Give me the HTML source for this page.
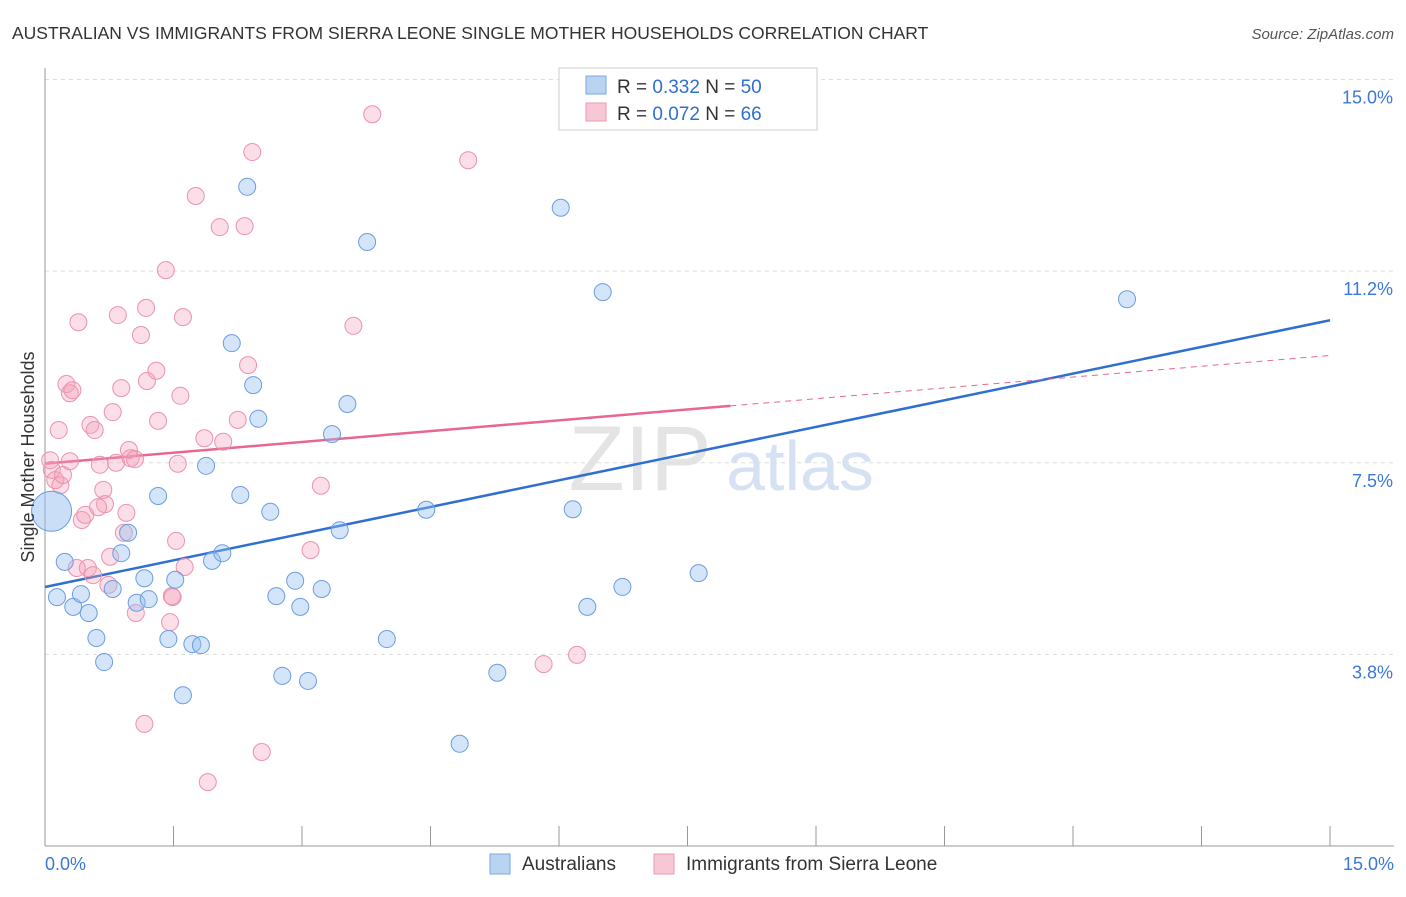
<!DOCTYPE html>
<html><head><meta charset="utf-8"><style>
body{margin:0;background:#fff;font-family:"Liberation Sans",sans-serif;}
svg text{font-family:"Liberation Sans",sans-serif;}
</style></head><body>
<svg id="chart" width="1406" height="892" xmlns="http://www.w3.org/2000/svg">
<text x="12" y="39" font-size="17.5" fill="#333">AUSTRALIAN VS IMMIGRANTS FROM SIERRA LEONE SINGLE MOTHER HOUSEHOLDS CORRELATION CHART</text>
<text x="1394" y="39" font-size="15" fill="#555" font-style="italic" text-anchor="end">Source: ZipAtlas.com</text>
<text x="640" y="490" font-size="92" fill="#e4e4e4" font-family="Liberation Serif" text-anchor="middle">ZIP</text>
<text x="800" y="490" font-size="70" fill="#d6e2f3" text-anchor="middle">atlas</text>
<g id="grid"></g><g id="axes"></g><g id="lines"></g><g id="points"></g>
<text transform="translate(34,457) rotate(-90)" font-size="18" fill="#333" text-anchor="middle">Single Mother Households</text>
<g>
<rect x="559" y="68" width="258" height="62" fill="#fff" stroke="#ccc"/>
<rect x="586" y="76" width="20" height="18" fill="#b9d3f3" stroke="#7aa7e0"/>
<rect x="586" y="103" width="20" height="18" fill="#f8c7d5" stroke="#eb9ab2"/>
<text x="617" y="93" font-size="19" fill="#333">R = <tspan fill="#2f6fd0">0.332</tspan>   N = <tspan fill="#2f6fd0">50</tspan></text>
<text x="617" y="120" font-size="19" fill="#333">R = <tspan fill="#2f6fd0">0.072</tspan>   N = <tspan fill="#2f6fd0">66</tspan></text>
</g>
<g>
<rect x="490" y="854" width="20" height="20" fill="#b9d3f3" stroke="#7aa7e0"/>
<text x="522" y="870" font-size="19" fill="#333">Australians</text>
<rect x="654" y="854" width="20" height="20" fill="#f8c7d5" stroke="#eb9ab2"/>
<text x="686" y="870" font-size="19" fill="#333">Immigrants from Sierra Leone</text>
</g>
</svg>
<script>
const yTicks=[3.75,7.5,11.25,15];
const yTickLabels=["3.8%","7.5%","11.2%","15.0%"];
const xTickLabels=["0.0%","15.0%"];
const bluePx=[[57,597],[65,562],[73,607],[81,594],[89,613],[96,638],[104,662],[113,589],[121,553],[128,533],[137,603],[144,578],[149,599],[158,496],[168,639],[175,580],[183,695],[192,644],[201,645],[212,561],[222,553],[206,466],[232,343],[240,495],[247,187],[253,385],[258,419],[270,512],[282,676],[276,596],[295,581],[300,607],[308,681],[322,589],[332,434],[340,530],[347,404],[367,242],[387,639],[426,510],[460,744],[497,673],[561,208],[573,509],[587,607],[603,292],[622,587],[699,573],[1127,299]];
const pinkPx=[[50,460],[52,470],[55,480],[59,430],[60,485],[63,475],[66,384],[70,393],[72,390],[70,461],[78,322],[77,568],[82,520],[85,515],[88,568],[90,425],[93,575],[95,430],[100,465],[103,490],[105,504],[98,507],[108,585],[110,557],[113,412],[116,463],[118,315],[121,388],[124,533],[126,513],[129,450],[131,458],[135,459],[136,613],[141,335],[144,724],[146,308],[147,381],[156,371],[158,421],[166,270],[170,622],[172,596],[173,597],[176,541],[178,464],[180,396],[183,317],[185,567],[196,196],[204,438],[208,782],[220,227],[223,442],[238,420],[245,226],[248,365],[252,152],[262,752],[311,550],[321,486],[353,326],[372,114],[468,160],[544,664],[577,655]];
// data values (percent)
const blueX=bluePx.map(p=>+((p[0]-45)/85.67).toFixed(2)), blueY=bluePx.map(p=>+((846-p[1])/51.1).toFixed(2));
const pinkX=pinkPx.map(p=>+((p[0]-45)/85.67).toFixed(2)), pinkY=pinkPx.map(p=>+((846-p[1])/51.1).toFixed(2));
const bigX=[0.1], bigY=[6.55];
const X=v=>45+v*85.67, Y=v=>846-v*51.1;
const NS="http://www.w3.org/2000/svg";
function mk(tag,attrs,parent){const e=document.createElementNS(NS,tag);for(const k in attrs)e.setAttribute(k,attrs[k]);document.getElementById(parent).appendChild(e);return e;}
yTicks.forEach((t,i)=>{
 const g=mk('line',{x1:45,x2:1394,y1:Y(t),y2:Y(t),stroke:'#ddd','stroke-dasharray':'4,4'},'grid');
 
 
 const l=mk('text',{x:1393,y:Y(t)+24,'font-size':18,fill:'#3b78d8','text-anchor':'end'},'axes');
 l.textContent=yTickLabels[i];
 
 
});
const ax=mk('line',{x1:45,x2:45,y1:68,y2:846,stroke:'#999'},'axes');


const bx=mk('line',{x1:45,x2:1394,y1:846,y2:846,stroke:'#999'},'axes');


for(let i=1;i<=10;i++){const t=mk('line',{x1:45+i*128.5,x2:45+i*128.5,y1:826,y2:846,stroke:'#999'},'axes');
 
 }
[[0,45,'start'],[15,1394,'end']].forEach((d,i)=>{const t=mk('text',{x:d[1],y:870,'font-size':18,fill:'#3b78d8','text-anchor':d[2]},'axes');t.textContent=xTickLabels[i];
 
 });
function reg(xs,ys){const n=xs.length,mx=xs.reduce((a,b)=>a+b)/n,my=ys.reduce((a,b)=>a+b)/n;let sxy=0,sxx=0;xs.forEach((x,i)=>{sxy+=(x-mx)*(ys[i]-my);sxx+=(x-mx)**2;});const b=sxy/sxx;return [my-b*mx,b];}
const rb=reg(blueX.concat(bigX),blueY.concat(bigY)), rp=reg(pinkX,pinkY);
const l1=mk('line',{x1:X(0),y1:Y(rb[0]),x2:X(15),y2:Y(rb[0]+15*rb[1]),stroke:'#2f6fd0','stroke-width':2.5},'lines');


const xe=Math.max(...pinkX)*1.4;
const l2=mk('line',{x1:X(0),y1:Y(rp[0]),x2:X(8),y2:Y(rp[0]+8*rp[1]),stroke:'#e8678f','stroke-width':2.5},'lines');


const l3=mk('line',{x1:X(8),y1:Y(rp[0]+8*rp[1]),x2:X(15),y2:Y(rp[0]+15*rp[1]),stroke:'#e8678f','stroke-width':1,'stroke-dasharray':'6,5'},'lines');


pinkX.forEach((x,i)=>{const c=mk('circle',{cx:X(x),cy:Y(pinkY[i]),r:8.5,fill:'rgba(244,160,186,0.35)',stroke:'#eb92ae','stroke-width':1},'points');
 
 });
blueX.forEach((x,i)=>{const c=mk('circle',{cx:X(x),cy:Y(blueY[i]),r:8.5,fill:'rgba(150,190,240,0.4)',stroke:'#6a9de0','stroke-width':1},'points');
 
 });
bigX.forEach((x,i)=>{const c=mk('circle',{cx:X(x)-2,cy:Y(bigY[i]),r:20,fill:'rgba(150,190,240,0.5)',stroke:'#6a9de0','stroke-width':1},'points');
 
 });
</script>
</body></html>
